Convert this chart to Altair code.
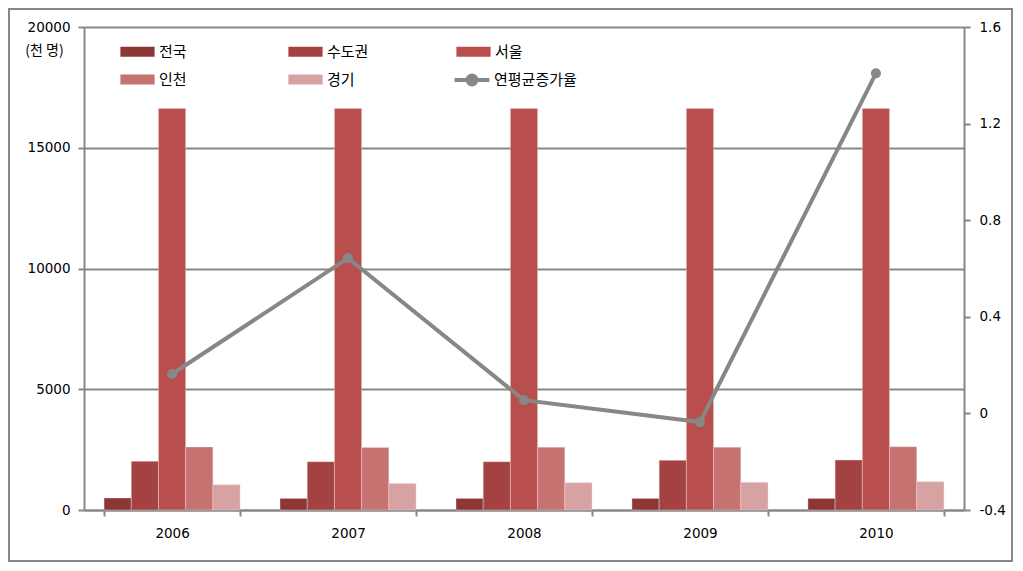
import altair as alt
import pandas as pd

years = ["2006", "2007", "2008", "2009", "2010"]
series = ["전국", "수도권", "서울", "인천", "경기"]
colors = ["#8C3736", "#A44141", "#B94F4C", "#C57271", "#D6A3A2"]
v_national = [497, 480, 480, 480, 480]
v_capital = [2016, 2000, 2000, 2058, 2070]
v_seoul = [16630, 16630, 16630, 16630, 16630]
v_incheon = [2608, 2590, 2600, 2600, 2620]
v_gyeonggi = [1048, 1100, 1130, 1147, 1172]
rate = [0.163, 0.643, 0.055, -0.036, 1.408]
rate_name = "연평균증가율"
rate_ticks = [-0.4, 0, 0.4, 0.8, 1.2, 1.6]

rows = []
for s, vals in zip(series, [v_national, v_capital, v_seoul, v_incheon, v_gyeonggi]):
    for y, v in zip(years, vals):
        rows.append({"year": y, "series": s, "value": v})
bars_df = pd.DataFrame(rows)
line_df = pd.DataFrame({"year": years, "rate": rate, "name": [rate_name] * len(years)})

GRAY = "#878787"
NUM_FONT = "DejaVu Sans"
KR_FONT = "Noto Sans CJK KR"

xscale = alt.Scale(domain=years, paddingInner=0.227, paddingOuter=0.114)

bars = alt.Chart(bars_df).mark_bar(stroke="#f3dcdc", strokeWidth=0.6, strokeOpacity=0.7).encode(
    x=alt.X("year:N", scale=xscale, sort=years,
            axis=alt.Axis(title=None, labelAngle=0, tickBand="extent", domainColor=GRAY,
                          domainWidth=2, tickColor=GRAY, tickWidth=2, tickSize=6,
                          labelPadding=10, labelFont=NUM_FONT, labelFontSize=13.5,
                          labelColor="#000000")),
    xOffset=alt.XOffset("series:N", sort=series, scale=alt.Scale(domain=series, paddingInner=0, paddingOuter=0)),
    y=alt.Y("value:Q", scale=alt.Scale(domain=[0, 20000], nice=False),
            axis=alt.Axis(title="(천 명)", titleAngle=0, titleX=-40, titleY=30, titleAlign="center",
                          titleFont=KR_FONT, titleFontSize=14, titleFontWeight="normal",
                          titleColor="#000000", format="d",
                          values=[0, 5000, 10000, 15000, 20000], grid=True, gridColor=GRAY,
                          gridWidth=2, domainColor=GRAY, domainWidth=2, tickColor=GRAY,
                          tickWidth=2, tickSize=6, labelPadding=8, labelFont=NUM_FONT,
                          labelFontSize=13.5, labelColor="#000000")),
    color=alt.Color("series:N", sort=series, scale=alt.Scale(domain=series, range=colors),
                    legend=alt.Legend(title=None, orient="none", legendX=46, legendY=17,
                                      direction="horizontal",
                                      columns=3, gridAlign="all", columnPadding=87, rowPadding=12,
                                      symbolType="M-2.85,-0.85H2.85V0.85H-2.85Z", symbolSize=144,
                                      symbolStrokeWidth=0, labelOffset=14, labelFont=KR_FONT,
                                      labelFontSize=15, labelColor="#000000")),
)

rate_scale = alt.Scale(domain=[-0.4, 1.6], nice=False)

line = alt.Chart(line_df).mark_line(strokeWidth=4).encode(
    x=alt.X("year:N", scale=xscale, sort=years),
    y=alt.Y("rate:Q", scale=rate_scale,
            axis=alt.Axis(title=None, orient="right", values=rate_ticks,
                          labelExpr="toString(datum.value)", grid=False, domainColor=GRAY,
                          domainWidth=2, tickColor=GRAY, tickWidth=2, tickSize=6,
                          labelPadding=9, labelFont=NUM_FONT,
                          labelFontSize=13.5, labelColor="#000000")),
    stroke=alt.Stroke("name:N", scale=alt.Scale(domain=[rate_name], range=[GRAY]),
                      legend=alt.Legend(title=None, orient="none", legendX=380, legendY=45,
                                        symbolType="M-2.9,0H2.9M0.75,0A0.75,0.75 0 1 1 -0.75,0A0.75,0.75 0 1 1 0.75,0",
                                        symbolSize=144, symbolStrokeWidth=4, symbolFillColor=GRAY,
                                        labelOffset=14, labelFont=KR_FONT, labelFontSize=15,
                                        labelColor="#000000")),
)
pts = alt.Chart(line_df).mark_point(filled=True, size=100, color=GRAY, opacity=1).encode(
    x=alt.X("year:N", scale=xscale, sort=years),
    y=alt.Y("rate:Q", scale=rate_scale, axis=None),
)

frame = alt.Chart(pd.DataFrame({"f": [0]})).mark_rect(filled=False, stroke=GRAY, strokeWidth=2).encode(
    x=alt.value(-75), x2=alt.value(928), y=alt.value(-18), y2=alt.value(534)
)

chart = alt.layer(frame, bars, line, pts).resolve_scale(
    y="independent", color="independent", stroke="independent"
).properties(
    width=880, height=483,
    autosize=alt.AutoSizeParams(type="none"),
    padding={"left": 76, "top": 19, "right": 50, "bottom": 53},
).configure_view(stroke=None).configure(background="white")

chart.save("out.html", embed_options={"renderer": "svg", "actions": False})
